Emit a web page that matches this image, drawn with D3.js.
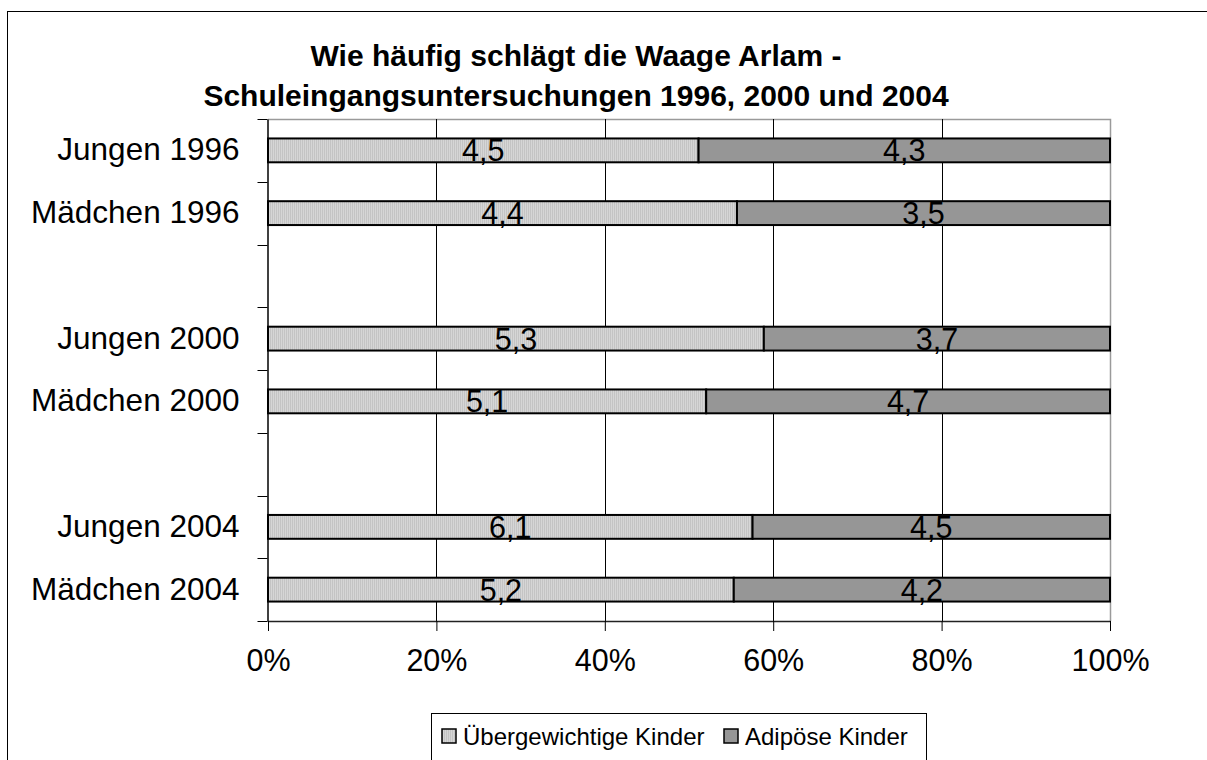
<!DOCTYPE html>
<html>
<head>
<meta charset="utf-8">
<script src="https://cdn.jsdelivr.net/npm/d3@7.9.0/dist/d3.min.js"></script>
<style>
  html, body { margin: 0; padding: 0; background: #fff; }
  svg { display: block; font-family: "Liberation Sans", Arial, sans-serif; }
</style>
</head>
<body>
<svg id="chart" width="1207" height="760"></svg>
<script>
// ---------- DATA ----------
const groups = ["Jungen 1996", "Mädchen 1996", "Jungen 2000", "Mädchen 2000", "Jungen 2004", "Mädchen 2004"];
const uebergewichtig = [4.5, 4.4, 5.3, 5.1, 6.1, 5.2];
const adipoes = [4.3, 3.5, 3.7, 4.7, 4.5, 4.2];
// slots incl. empty gaps between the survey years
const slots = ["Jungen 1996", "Mädchen 1996", "gap1", "Jungen 2000", "Mädchen 2000", "gap2", "Jungen 2004", "Mädchen 2004"];
const seriesNames = ["Übergewichtige Kinder", "Adipöse Kinder"];
const xTicks = [0, 0.2, 0.4, 0.6, 0.8, 1];
const titleLines = ["Wie häufig schlägt die Waage Arlam -", "Schuleingangsuntersuchungen 1996, 2000 und 2004"];

// ---------- SETUP ----------
const svg = d3.select("#chart");
const plot = { left: 268, right: 1110, top: 119, bottom: 621 };
const de = d3.formatLocale({ decimal: ",", thousands: ".", grouping: [3], currency: ["", " €"] });
const fmt = de.format(".1f");
const pct = d3.format(".0%");

const rows = groups.map((g, i) => ({ group: g, a: uebergewichtig[i], b: adipoes[i] }));
const stacked = d3.stack().keys(["a", "b"]).offset(d3.stackOffsetExpand)(rows);

const x = d3.scaleLinear().domain([0, 1]).range([plot.left, plot.right]);
const y = d3.scaleBand().domain(slots).range([plot.top, plot.bottom])
    .paddingInner(0.62).paddingOuter(0.31);

// stripe pattern for light series
const defs = svg.append("defs");
const pat = defs.append("pattern")
    .attr("id", "stripes").attr("patternUnits", "userSpaceOnUse")
    .attr("width", 2).attr("height", 4);
pat.append("rect").attr("width", 2).attr("height", 4).attr("fill", "#d6d6d6");
pat.append("rect").attr("width", 1).attr("height", 4).attr("fill", "#c4c4c4");

const fills = ["url(#stripes)", "#969696"];

// outer chart frame
svg.append("rect")
    .attr("x", 7.5).attr("y", 11.5).attr("width", 1220).attr("height", 780)
    .attr("fill", "none").attr("stroke", "#000").attr("stroke-width", 1);

// ---------- TITLE ----------
svg.append("g").selectAll("text")
    .data(titleLines)
    .join("text")
    .attr("x", 576)
    .attr("y", (d, i) => 66 + i * 40)
    .attr("text-anchor", "middle")
    .attr("font-weight", "bold")
    .attr("font-size", 30)
    .text(d => d);

// ---------- PLOT AREA ----------
// plot border (grey)
svg.append("path")
    .attr("d", `M${plot.left},${plot.top + 0.5}H${plot.right + 0.5}V${plot.bottom}`)
    .attr("fill", "none").attr("stroke", "#9a9a9a").attr("stroke-width", 1.5);

// vertical gridlines
svg.append("g").selectAll("line")
    .data(xTicks.slice(1, -1))
    .join("line")
    .attr("x1", d => Math.round(x(d)) + 0.5).attr("x2", d => Math.round(x(d)) + 0.5)
    .attr("y1", plot.top).attr("y2", plot.bottom)
    .attr("stroke", "#000").attr("stroke-width", 1);

// bars
const layers = svg.append("g").selectAll("g")
    .data(stacked)
    .join("g")
    .attr("fill", (d, i) => fills[i]);

layers.selectAll("rect")
    .data(d => d)
    .join("rect")
    .attr("x", d => x(d[0]))
    .attr("y", d => y(d.data.group))
    .attr("width", d => x(d[1]) - x(d[0]))
    .attr("height", y.bandwidth())
    .attr("stroke", "#000")
    .attr("stroke-width", 2);

// value labels
layers.selectAll("text")
    .data((d, i) => d.map(v => ({ v, key: d.key })))
    .join("text")
    .attr("x", d => (x(d.v[0]) + x(d.v[1])) / 2)
    .attr("y", d => y(d.v.data.group) + y.bandwidth() / 2)
    .attr("dy", "0.36em")
    .attr("text-anchor", "middle")
    .attr("font-size", 30.5)
    .attr("fill", "#000")
    .text(d => fmt(d.v.data[d.key]));

// ---------- AXES ----------
const xAxis = d3.axisBottom(x).tickValues(xTicks).tickFormat(pct)
    .tickSize(10).tickSizeOuter(0).tickPadding(18);
const gx = svg.append("g")
    .attr("transform", `translate(0,${plot.bottom})`)
    .call(xAxis);
gx.select(".domain").attr("stroke", "#222").attr("stroke-width", 1.5);
gx.selectAll(".tick line").attr("stroke", "#000");
gx.selectAll(".tick text").attr("font-size", 30.5).attr("font-family", "Liberation Sans, Arial, sans-serif").attr("fill", "#000");

const yAxis = d3.axisLeft(y).tickSize(0).tickPadding(28)
    .tickFormat(d => d.startsWith("gap") ? "" : d);
const gy = svg.append("g")
    .attr("transform", `translate(${plot.left - 0.5},0)`)
    .call(yAxis);
gy.select(".domain").attr("stroke", "#000").attr("stroke-width", 1.5);
gy.selectAll(".tick text").attr("font-size", 31.5).attr("font-family", "Liberation Sans, Arial, sans-serif").attr("fill", "#000");

// category boundary ticks
const boundaries = slots.map(s => y(s) - y.step() * y.paddingInner() / 2).concat([plot.bottom]);
gy.append("g").selectAll("line")
    .data(boundaries)
    .join("line")
    .attr("x1", -10).attr("x2", 0)
    .attr("y1", d => Math.round(d) + 0.5).attr("y2", d => Math.round(d) + 0.5)
    .attr("stroke", "#000").attr("stroke-width", 1);

// ---------- LEGEND ----------
const legend = svg.append("g");
legend.append("rect")
    .attr("x", 431.5).attr("y", 713.5).attr("width", 495).attr("height", 70)
    .attr("fill", "#fff").attr("stroke", "#000").attr("stroke-width", 1);

const legendX = [442, 724];
const items = legend.selectAll("g.item")
    .data(seriesNames)
    .join("g")
    .attr("class", "item")
    .attr("transform", (d, i) => `translate(${legendX[i]},729)`);
items.append("rect")
    .attr("width", 14).attr("height", 14)
    .attr("fill", (d, i) => fills[i])
    .attr("stroke", "#000").attr("stroke-width", 1.5);
items.append("text")
    .attr("x", 21).attr("y", 7).attr("dy", "0.36em")
    .attr("font-size", 24)
    .text(d => d);
</script>
</body>
</html>
